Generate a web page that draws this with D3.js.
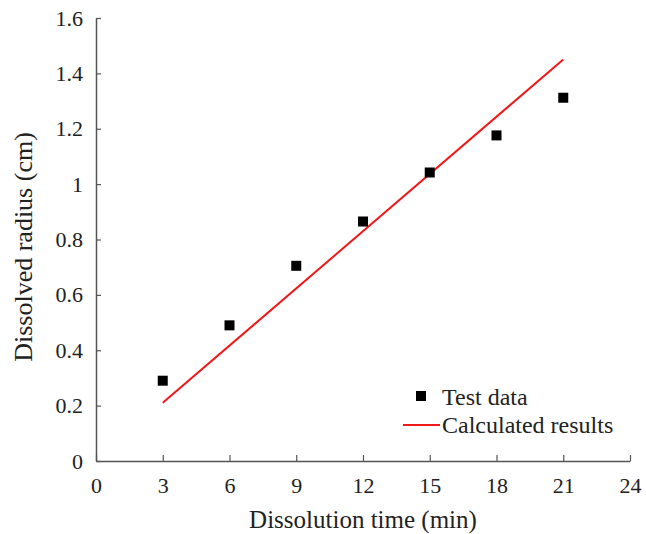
<!DOCTYPE html>
<html>
<head>
  <meta charset="UTF-8">
  <style>
    body { margin: 0; background: #fff; }
  </style>
</head>
<body>
  <svg id="chart"></svg>
  <script src="https://d3js.org/d3.v7.min.js"></script>
  <script>
    // data
    const timeMin = [3, 6, 9, 12, 15, 18, 21];
    const testRadius = [0.29, 0.49, 0.705, 0.865, 1.042, 1.176, 1.312];
    const calcTime = [3, 21];
    const calcRadius = [0.21, 1.45];
    const xTicks = [0, 3, 6, 9, 12, 15, 18, 21, 24];
    const yTicks = [0, 0.2, 0.4, 0.6, 0.8, 1, 1.2, 1.4, 1.6];

    const serif = "'Liberation Serif', 'DejaVu Serif', serif";
    let width = 646, height = 534;
    let svg = d3.select("#chart").attr("width", width).attr("height", height)
      .style("font-family", serif);

    let x = d3.scaleLinear().domain([0, 24]).range([96, 630]);
    let y = d3.scaleLinear().domain([0, 1.6]).range([461, 18]);

    // axes, ticks pointing inward
    let xAxis = svg.append("g")
      .attr("transform", "translate(0," + y(0) + ")")
      .call(d3.axisBottom(x).tickValues(xTicks).tickSizeInner(-6).tickSizeOuter(0).tickPadding(16));
    let yAxis = svg.append("g")
      .attr("transform", "translate(" + x(0) + ",0)")
      .call(d3.axisLeft(y).tickValues(yTicks).tickSizeInner(-5).tickSizeOuter(0).tickPadding(13)
        .tickFormat(d3.format("")));

    [xAxis, yAxis].forEach(a => {
      a.attr("font-family", null).attr("font-size", null);
      a.select(".domain").attr("stroke", "#555").attr("stroke-width", 1.5);
      a.selectAll(".tick line").attr("stroke", "#555").attr("stroke-width", 1.2);
      a.selectAll(".tick text")
        .style("font-family", serif)
        .style("font-size", "22px")
        .attr("fill", "#222");
    });

    // calculated line
    let line = d3.line().x(d => x(d[0])).y(d => y(d[1]));
    svg.append("path")
      .datum(calcTime.map((t, i) => [t, calcRadius[i]]))
      .attr("d", line)
      .attr("fill", "none")
      .attr("stroke", "#f01818")
      .attr("stroke-width", 2);

    // test points
    svg.selectAll("rect.pt")
      .data(timeMin)
      .enter()
      .append("rect")
        .attr("class", "pt")
        .attr("x", d => x(d) - 5)
        .attr("y", (d, i) => y(testRadius[i]) - 5)
        .attr("width", 10)
        .attr("height", 10)
        .attr("fill", "#000");

    // axis titles
    svg.append("text")
      .attr("x", (x(0) + x(24)) / 2)
      .attr("y", 528)
      .attr("text-anchor", "middle")
      .style("font-family", serif)
      .style("font-size", "25px")
      .attr("fill", "#222")
      .text("Dissolution time (min)");

    svg.append("text")
      .attr("transform", "translate(32," + 247 + ") rotate(-90)")
      .attr("text-anchor", "middle")
      .style("font-family", serif)
      .style("font-size", "26px")
      .attr("fill", "#222")
      .text("Dissolved radius (cm)");

    // legend
    let legend = svg.append("g").style("font-family", serif);
    legend.append("rect")
      .attr("x", 416).attr("y", 391).attr("width", 10).attr("height", 10)
      .attr("fill", "#000");
    legend.append("text")
      .attr("x", 442).attr("y", 405)
      .style("font-size", "24px")
      .attr("fill", "#222")
      .text("Test data");
    legend.append("line")
      .attr("x1", 403).attr("x2", 440).attr("y1", 425).attr("y2", 425)
      .attr("stroke", "#f01818").attr("stroke-width", 2);
    legend.append("text")
      .attr("x", 442).attr("y", 433)
      .style("font-size", "24px")
      .attr("fill", "#222")
      .text("Calculated results");
  </script>
</body>
</html>
